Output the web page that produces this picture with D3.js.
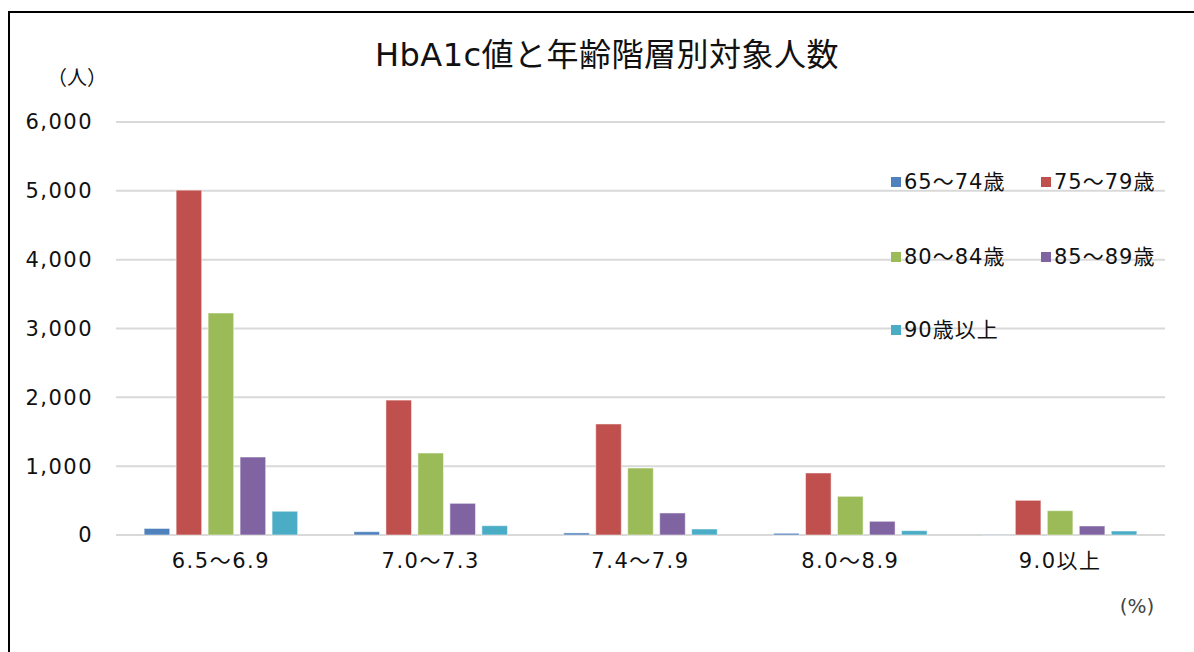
<!DOCTYPE html>
<html>
<head>
<meta charset="utf-8">
<script src="https://cdn.jsdelivr.net/npm/d3@7"></script>
<style>
  body { margin: 0; background: #fff; }
  text { font-family: "DejaVu Sans", "Noto Sans CJK JP", sans-serif; fill: #111; }
</style>
</head>
<body>
<svg id="chart"></svg>
<script>
const width = 1194
const height = 652

const categories = ['6.5～6.9', '7.0～7.3', '7.4～7.9', '8.0～8.9', '9.0以上']
const series = ['65～74歳', '75～79歳', '80～84歳', '85～89歳', '90歳以上']
const colors = ['#4f81bd', '#c0504d', '#9bbb59', '#8064a2', '#4bacc6']

// one array per age group, values per HbA1c category
const age65to74 = [95, 48, 30, 25, 5]
const age75to79 = [5010, 1960, 1613, 901, 504]
const age80to84 = [3225, 1191, 973, 562, 353]
const age85to89 = [1133, 460, 320, 199, 131]
const age90plus = [345, 135, 87, 63, 58]
const values = [age65to74, age75to79, age80to84, age85to89, age90plus]

const yTicks = [0, 1000, 2000, 3000, 4000, 5000, 6000]

const svg = d3.select('#chart').attr('width', width).attr('height', height)

// outer frame, runs off the right and bottom of the picture
svg.append('rect')
  .attr('x', 9).attr('y', 12)
  .attr('width', width + 20).attr('height', height + 20)
  .attr('fill', 'none').attr('stroke', '#000').attr('stroke-width', 2)

const x = d3.scaleBand().domain(categories).range([116, 1165])
const xInner = d3.scaleBand().domain(series).range([0, x.bandwidth()])
  .paddingInner(0.2).paddingOuter(0.88)
const y = d3.scaleLinear().domain([0, 6000]).range([535, 122])

// gridlines
svg.append('g')
  .selectAll('line')
  .data(yTicks)
  .join('line')
  .attr('x1', 116).attr('x2', 1165)
  .attr('y1', d => y(d)).attr('y2', d => y(d))
  .attr('stroke', '#d9d9d9').attr('stroke-width', 2)

// y labels
svg.append('g')
  .selectAll('text')
  .data(yTicks)
  .join('text')
  .attr('x', 93).attr('y', d => y(d))
  .attr('dy', '0.35em')
  .attr('text-anchor', 'end')
  .style('font-size', '21px')
  .style('letter-spacing', '1.5px')
  .text(d3.format(','))

svg.append('text').attr('x', 77).attr('y', 78).attr('dy', '0.35em')
  .attr('text-anchor', 'middle').style('font-size', '20px').text('（人）')

// bars
const groups = svg.append('g')
  .selectAll('g')
  .data(series)
  .join('g')
  .attr('fill', (d, i) => colors[i])

groups.selectAll('rect')
  .data((s, i) => categories.map((c, j) => ({ s, c, v: values[i][j] })))
  .join('rect')
  .attr('x', d => x(d.c) + xInner(d.s))
  .attr('width', xInner.bandwidth())
  .attr('y', d => y(d.v))
  .attr('height', d => y(0) - y(d.v))
  .attr('stroke', '#fff').attr('stroke-opacity', 0.5).attr('stroke-width', 1)

// x labels
svg.append('g')
  .selectAll('text')
  .data(categories)
  .join('text')
  .attr('x', d => x(d) + x.bandwidth() / 2)
  .attr('y', 561).attr('dy', '0.35em')
  .attr('text-anchor', 'middle')
  .style('font-size', '21px')
  .style('letter-spacing', '1.5px')
  .text(d => d)

svg.append('text').attr('x', 1137).attr('y', 606).attr('dy', '0.35em')
  .attr('text-anchor', 'middle').style('font-size', '20px').style('fill', '#444').text('(%)')

// title
svg.append('text').attr('x', 607).attr('y', 55).attr('dy', '0.35em')
  .attr('text-anchor', 'middle').style('font-size', '32px').style('letter-spacing', '0.5px')
  .text('HbA1c値と年齢階層別対象人数')

// legend
const legendPos = [[891, 182], [1041, 182], [891, 257], [1041, 257], [891, 330]]
const legend = svg.append('g')
  .selectAll('g')
  .data(series)
  .join('g')
  .attr('transform', (d, i) => `translate(${legendPos[i][0]},${legendPos[i][1]})`)

legend.append('rect')
  .attr('x', 0).attr('y', -5).attr('width', 10).attr('height', 10)
  .attr('fill', (d, i) => colors[i])

legend.append('text')
  .attr('x', 13).attr('dy', '0.35em')
  .style('font-size', '21px')
  .style('letter-spacing', '1px')
  .text(d => d)
</script>
</body>
</html>
